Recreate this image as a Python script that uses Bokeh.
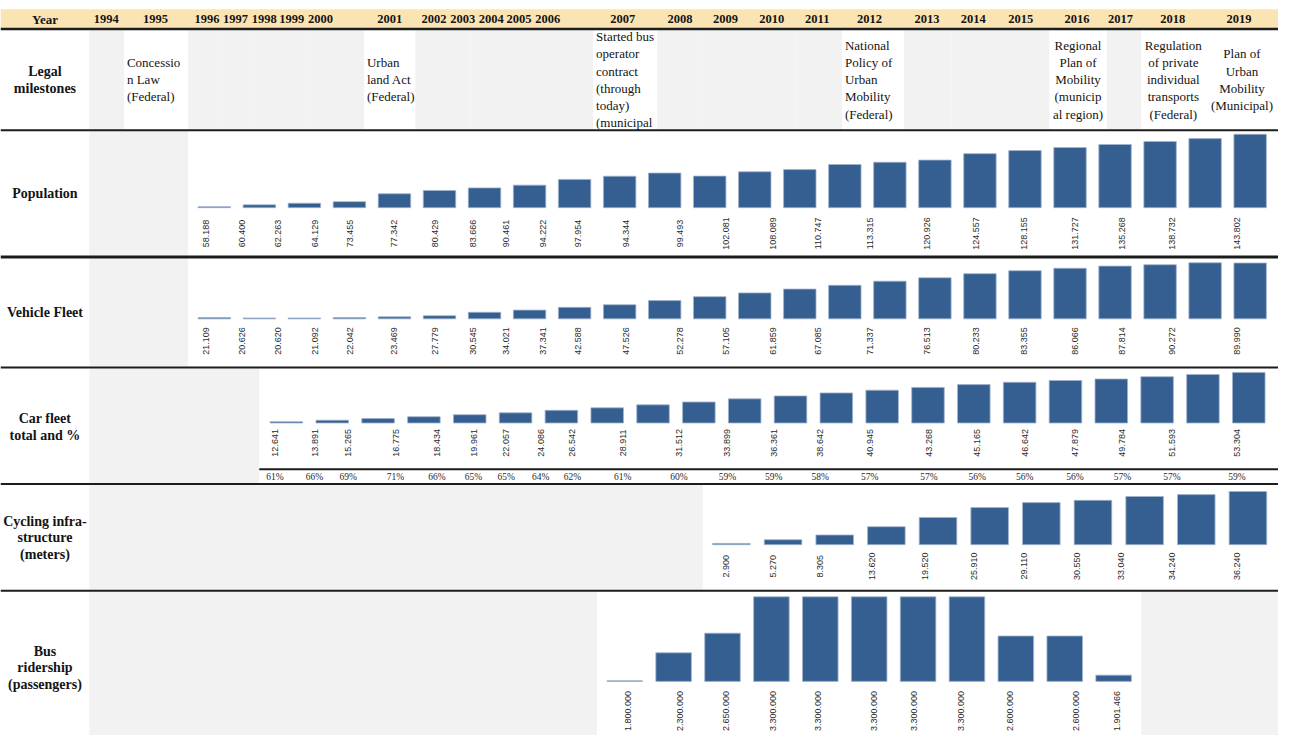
import math
from bokeh.plotting import figure
from bokeh.models import Range1d
from bokeh.embed import file_html
from bokeh.resources import INLINE
from bokeh.core.properties import value

# ---------------- data ----------------
header_years = list(range(1994, 2020))
row_labels = [
    "Legal\nmilestones",
    "Population",
    "Vehicle Fleet",
    "Car fleet\ntotal and %",
    "Cycling infra-\nstructure\n(meters)",
    "Bus\nridership\n(passengers)",
]
milestone_years = [1995, 2001, 2007, 2012, 2016, 2018, 2019]
milestone_texts = [
    "Concessio\nn Law\n(Federal)",
    "Urban\nland Act\n(Federal)",
    "Started bus\noperator\ncontract\n(through\ntoday)\n(municipal",
    "National\nPolicy of\nUrban\nMobility\n(Federal)",
    "Regional\nPlan of\nMobility\n(municip\nal region)",
    "Regulation\nof private\nindividual\ntransports\n(Federal)",
    "Plan of\nUrban\nMobility\n(Municipal)",
]
pop_years = list(range(1996, 2020))
population = [58188, 60400, 62263, 64129, 73455, 77342, 80429, 83666, 90461, 94222,
              97954, 94344, 99493, 102081, 108089, 110747, 113315, 120926, 124557,
              128155, 131727, 135268, 138732, 143802]
veh_years = list(range(1996, 2020))
vehicles = [21109, 20626, 20620, 21092, 22042, 23469, 27779, 30545, 34021, 37341,
            42588, 47526, 52278, 57105, 61859, 67085, 71337, 76513, 80233, 83355,
            86066, 87814, 90272, 89990]
car_years = list(range(1998, 2020))
cars = [12641, 13891, 15265, 16775, 18434, 19961, 22057, 24086, 26542, 28911, 31512,
        33899, 36361, 38642, 40945, 43268, 45165, 46642, 47879, 49784, 51593, 53304]
car_share = [61, 66, 69, 71, 66, 65, 65, 64, 62, 61, 60, 59, 59, 58, 57, 57, 56, 56,
             56, 57, 57, 59]
cyc_years = list(range(2009, 2020))
cycling = [2900, 5270, 8305, 13620, 19520, 25910, 29110, 30550, 33040, 34240, 36240]
bus_years = list(range(2007, 2018))
bus = [1800000, 2300000, 2650000, 3300000, 3300000, 3300000, 3300000, 3300000,
       2600000, 2600000, 1901466]

# ---------------- layout (reference pixel space) ----------------
W, H = 1294, 751
col_edges = [90, 125, 190, 224, 253, 281, 310, 368, 420, 448, 476, 504, 533, 600, 665,
             710, 758, 805, 852, 915, 963, 1008, 1062, 1120, 1155, 1220, 1294]
header_x = [107, 157, 209, 238, 267, 295, 324, 394, 439, 468, 497, 525, 554, 630, 688,
            734, 781, 827, 880, 938, 985, 1033, 1090, 1134, 1187, 1254]
lab_x_9619 = [208, 245, 281, 318, 354, 398, 440, 478, 512, 549, 585, 633, 688, 735,
              782, 828, 880, 938, 988, 1036, 1088, 1136, 1186, 1252]
lab_x_car = [278, 318, 352, 400, 442, 479, 512, 547, 579, 630, 687, 736, 783, 830, 880,
             940, 989, 1037, 1088, 1136, 1186, 1252]
lab_x_cyc = [735, 782, 830, 882, 936, 986, 1036, 1090, 1135, 1186, 1252]
lab_x_bus = [635, 688, 735, 782, 828, 884, 925, 973, 1022, 1089, 1130]
ms_align = ["left", "left", "left", "left", "center", "center", "center"]

GRAY = "#F2F2F2"
HEAD = "#FBE4B4"
BAR = "#365F91"
INK = "#141414"
SERIF = "Liberation Serif"
SANS = "Liberation Sans"

p = figure(width=1278, height=735, x_range=Range1d(0, W), y_range=Range1d(H, 0),
           x_axis_type=None, y_axis_type=None, toolbar_location=None,
           output_backend="svg", min_border=0, outline_line_color=None,
           background_fill_color="white", border_fill_color="white")
p.grid.visible = False


def fmt(v):
    return f"{v:,}".replace(",", ".")


def texts(xs, ys, ss, size, font=SERIF, style="normal", align="center", angle=0.0,
          color=INK):
    p.text(x=xs, y=ys, text=ss, text_font=value(font), text_font_size=f"{size}px",
           text_font_style=style, text_align=align, text_baseline="middle",
           angle=angle, text_color=color)


def multiline(x, yc, s, size, spacing, style="normal", align="center"):
    lines = s.split("\n")
    n = len(lines)
    ys = [yc + (i - (n - 1) / 2) * spacing for i in range(n)]
    texts([x] * n, ys, lines, size, style=style, align=align)


# header band
p.quad(left=[0], right=[W], top=[9], bottom=[29], fill_color=HEAD, line_color=None)

# row backgrounds (gray cells)
lg_l, lg_r = [], []
for i, yr in enumerate(header_years):
    if yr not in milestone_years:
        lg_l.append(col_edges[i])
        lg_r.append(col_edges[i + 1])
p.quad(left=lg_l, right=lg_r, top=[30] * len(lg_l), bottom=[132] * len(lg_l),
       fill_color=GRAY, line_color=None)
gray_spans = [
    (90, 190, 133, 261),
    (90, 190, 263, 374),
    (90, 262, 376, 493),
    (90, 711, 495, 602),
    (90, 604, 604, H),
    (1155, W, 604, H),
]
p.quad(left=[g[0] for g in gray_spans], right=[g[1] for g in gray_spans],
       top=[g[2] for g in gray_spans], bottom=[g[3] for g in gray_spans],
       fill_color=GRAY, line_color=None)

# separators
seps = [(0, W, 29, 2.5), (0, W, 132.5, 2), (0, W, 262, 3), (0, W, 375, 2),
        (262, W, 479, 2), (0, W, 494, 2), (0, W, 603, 2)]
for x0, x1, yy, lw in seps:
    p.segment(x0=[x0], x1=[x1], y0=[yy], y1=[yy], line_color="#1c1c1c", line_width=lw)

# header labels
texts([45], [19], ["Year"], 13, style="bold")
texts(header_x, [19] * len(header_years), [str(y) for y in header_years], 12.5,
      style="bold")

# row labels
row_centers = [81, 197, 319, 436, 549, 682]
for lab, yc in zip(row_labels, row_centers):
    multiline(45, yc, lab, 14, 17, style="bold")

# milestones
for yr, t, al in zip(milestone_years, milestone_texts, ms_align):
    i = header_years.index(yr)
    l, r = col_edges[i], col_edges[i + 1]
    x = l + 3 if al == "left" else (l + r) / 2
    multiline(x, 81, t, 13, 17.6, align=al)


# bar panels: each gets its own value scale mapped into its row band
def bar_panel(name, years, values, x_left, x_right, y_base, y_top, base_value, frac):
    u0, u1 = years[0] - 0.5, years[-1] + 0.5
    span = (u1 - u0) * W / (x_right - x_left)
    s = u0 - x_left / W * span
    p.extra_x_ranges[name] = Range1d(s, s + span)
    vmax = max(values)
    f0 = (H - y_base) / H
    f1 = (H - y_top) / H
    vspan = (vmax - base_value) / (f1 - f0)
    ys = base_value - f0 * vspan
    p.extra_y_ranges[name] = Range1d(ys, ys + vspan)
    p.vbar(x=years, top=values, bottom=base_value, width=frac, x_range_name=name,
           y_range_name=name, fill_color=BAR, line_color="#9FB3CB", line_width=0.8)


bar_panel("pop", pop_years, population, 193.7, 1288.1, 211.7, 136.7, 57000, 0.72)
bar_panel("veh", veh_years, vehicles, 193.7, 1288.1, 325.3, 268, 19500, 0.72)
bar_panel("car", car_years, cars, 266.3, 1287.1, 431.7, 380, 11600, 0.71)
bar_panel("cyc", cyc_years, cycling, 713.9, 1289.2, 556, 501.7, 2100, 0.727)
bar_panel("bus", bus_years, bus, 607.3, 1151.8, 695.7, 609.3, 1790000, 0.727)

# value labels
rot = math.pi / 2
NUM = 9
LBL = "#2a2a2a"
texts(lab_x_9619, [238] * len(population), [fmt(v) for v in population], NUM, font=SANS,
      angle=rot, color=LBL)
texts(lab_x_9619, [348] * len(vehicles), [fmt(v) for v in vehicles], NUM, font=SANS,
      angle=rot, color=LBL)
texts(lab_x_car, [452] * len(cars), [fmt(v) for v in cars], NUM, font=SANS, angle=rot,
      color=LBL)
texts(lab_x_car, [487] * len(car_share), [f"{v}%" for v in car_share], 9.5, color=LBL)
texts(lab_x_cyc, [578] * len(cycling), [fmt(v) for v in cycling], NUM, font=SANS,
      angle=rot, color=LBL)
texts(lab_x_bus, [726] * len(bus), [fmt(v) for v in bus], NUM, font=SANS, angle=rot,
      color=LBL)

open("out.html", "w").write(file_html(p, INLINE))
